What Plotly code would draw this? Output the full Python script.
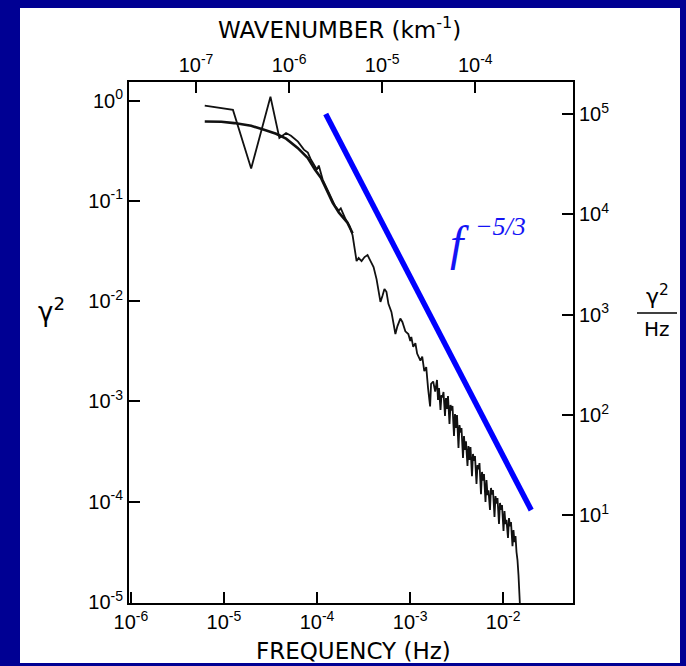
import plotly.graph_objects as go

# Measured spectrum: frequency (Hz) and gamma^2
freq_hz = [
    6.22e-6, 1.25e-5, 1.96e-5, 3.16e-5, 3.94e-5, 4.65e-5, 5.25e-5, 6.24e-5,
    7.23e-5, 7.97e-5, 8.59e-5, 9.95e-5, 1.045e-4, 1.15e-4, 1.34e-4, 1.55e-4,
    1.71e-4, 1.80e-4, 2.03e-4, 2.24e-4, 2.41e-4, 2.53e-4, 2.66e-4, 2.80e-4,
    3.01e-4, 3.24e-4, 3.49e-4, 3.76e-4, 4.05e-4, 4.36e-4, 4.57e-4, 4.80e-4,
    5.05e-4, 5.30e-4, 5.57e-4, 5.85e-4, 6.30e-4, 6.62e-4, 6.95e-4, 7.30e-4,
    7.85e-4, 8.26e-4, 8.89e-4, 9.57e-4, 1.005e-3, 1.03e-3, 1.08e-3, 1.14e-3,
    1.19e-3, 1.29e-3, 1.35e-3, 1.42e-3, 1.49e-3, 1.56e-3, 1.64e-3, 1.68e-3,
    1.77e-3, 1.86e-3,
    1.945e-3, 1.994e-3, 2.044e-3, 2.121e-3, 2.174e-3, 2.228e-3, 2.284e-3, 2.370e-3,
    2.429e-3, 2.490e-3, 2.553e-3, 2.649e-3, 2.716e-3, 2.783e-3, 2.853e-3, 2.961e-3,
    3.035e-3, 3.112e-3, 3.190e-3, 3.310e-3, 3.393e-3, 3.478e-3, 3.565e-3, 3.700e-3,
    3.792e-3, 3.886e-3, 3.984e-3, 4.134e-3, 4.237e-3, 4.345e-3, 4.453e-3, 4.621e-3,
    4.737e-3, 4.856e-3, 4.978e-3, 5.166e-3, 5.295e-3, 5.428e-3, 5.564e-3, 5.774e-3,
    5.920e-3, 6.067e-3, 6.220e-3, 6.455e-3, 6.616e-3, 6.783e-3, 6.952e-3, 7.214e-3,
    7.396e-3, 7.580e-3, 7.771e-3, 8.064e-3, 8.266e-3, 8.474e-3, 8.685e-3, 9.013e-3,
    9.241e-3, 9.471e-3, 9.707e-3, 1.008e-2, 1.033e-2, 1.058e-2, 1.085e-2, 1.126e-2,
    1.154e-2, 1.183e-2, 1.213e-2, 1.259e-2, 1.290e-2, 1.322e-2, 1.356e-2, 1.390e-2,
    1.424e-2, 1.460e-2, 1.489e-2, 1.515e-2,
]
power = [
    0.891, 0.807, 0.210, 1.09, 0.423, 0.474, 0.446, 0.389,
    0.324, 0.303, 0.258, 0.205, 0.225, 0.163, 0.121, 0.090,
    0.080, 0.084, 0.0655, 0.0557, 0.0454, 0.0345, 0.0251, 0.0269,
    0.0251, 0.0275, 0.0288, 0.0251, 0.0219, 0.0166, 0.0126, 0.00982,
    0.0113, 0.0132, 0.0124, 0.0094, 0.0078, 0.0059, 0.0047, 0.0056,
    0.0067, 0.0062, 0.0050, 0.0047, 0.0040, 0.0044, 0.0035, 0.0038,
    0.0030, 0.00255, 0.0028, 0.0020, 0.0022, 0.00135, 0.00089, 0.0015,
    0.00158, 0.00125,
    1.636e-3, 1.033e-3, 1.361e-3, 8.21e-4, 1.159e-3, 1.10e-3, 1.242e-3, 7.16e-4,
    1.082e-3, 8.40e-4, 1.132e-3, 5.95e-4, 9.21e-4, 8.10e-4, 9.00e-4, 4.52e-4,
    7.49e-4, 5.43e-4, 7.32e-4, 3.43e-4, 5.82e-4, 4.90e-4, 5.43e-4, 2.73e-4,
    4.52e-4, 3.28e-4, 4.00e-4, 2.27e-4, 3.59e-4, 2.61e-4, 3.51e-4, 1.80e-4,
    2.99e-4, 2.55e-4, 2.86e-4, 1.50e-4, 2.32e-4, 2.10e-4, 2.43e-4, 1.19e-4,
    1.98e-4, 1.62e-4, 1.89e-4, 9.94e-5, 1.646e-4, 1.167e-4, 1.30e-4, 8.27e-5,
    1.370e-4, 1.18e-4, 1.308e-4, 7.04e-5, 1.140e-4, 9.60e-5, 1.089e-4, 5.99e-5,
    9.71e-5, 8.30e-5, 9.28e-5, 5.10e-5, 8.08e-5, 5.99e-5, 6.60e-5, 4.35e-5,
    6.88e-5, 5.70e-5, 6.28e-5, 3.61e-5, 5.22e-5, 3.96e-5, 4.55e-5, 3.15e-5,
    2.62e-5, 1.86e-5, 1.32e-5, 9.12e-6,
]

# Smooth low-frequency curve
fit_freq_hz = [6.22e-6, 9.37e-6, 1.29e-5, 1.96e-5, 2.70e-5, 3.63e-5, 4.65e-5, 6.19e-5,
               7.93e-5, 9.48e-5, 1.10e-4, 1.27e-4, 1.47e-4, 1.72e-4, 2.12e-4, 2.41e-4]
fit_power = [0.618, 0.614, 0.596, 0.560, 0.511, 0.467, 0.417, 0.337,
             0.268, 0.205, 0.170, 0.130, 0.0959, 0.0762, 0.0607, 0.0475]

# Reference power-law line
slope_freq_hz = [1.24e-4, 2.0e-2]
slope_power = [0.733, 8.24e-5]

# Axis ticks
freq_ticks = [1e-6, 1e-5, 1e-4, 1e-3, 1e-2]
freq_ticktext = ["10<sup>-6</sup>", "10<sup>-5</sup>", "10<sup>-4</sup>", "10<sup>-3</sup>", "10<sup>-2</sup>"]
wn_ticks = [1e-7, 1e-6, 1e-5, 1e-4]
wn_ticktext = ["10<sup>-7</sup>", "10<sup>-6</sup>", "10<sup>-5</sup>", "10<sup>-4</sup>"]
gamma_ticks = [1e0, 1e-1, 1e-2, 1e-3, 1e-4, 1e-5]
gamma_ticktext = ["10<sup>0</sup>", "10<sup>-1</sup>", "10<sup>-2</sup>", "10<sup>-3</sup>", "10<sup>-4</sup>", "10<sup>-5</sup>"]
density_ticks = [1e1, 1e2, 1e3, 1e4, 1e5]
density_ticktext = ["10<sup>1</sup>", "10<sup>2</sup>", "10<sup>3</sup>", "10<sup>4</sup>", "10<sup>5</sup>"]

W, H = 686, 666
L, R, T, B = 129, 113, 82, 63
PW, PH = W - L - R, H - T - B


def px(xp):
    return (xp - L) / PW


def py(yp):
    return (H - B - yp) / PH


TICK_FONT = dict(family="Liberation Sans, Arial, sans-serif", size=20, color="black")
TITLE_FONT = dict(family="DejaVu Sans, sans-serif", size=23, color="black")
SERIF = "Liberation Serif, Times New Roman, serif"
LABEL_BLUE = "#1414F5"

fig = go.Figure()

fig.add_trace(go.Scatter(x=fit_freq_hz, y=fit_power, mode="lines",
                         line=dict(color="#111111", width=2.6), hoverinfo="skip"))
fig.add_trace(go.Scatter(x=freq_hz, y=power, mode="lines",
                         line=dict(color="#111111", width=1.8), hoverinfo="skip"))
fig.add_trace(go.Scatter(x=slope_freq_hz, y=slope_power, mode="lines",
                         line=dict(color="#0000FF", width=5.5), hoverinfo="skip"))
# registers the top/right axes
fig.add_trace(go.Scatter(x=[], y=[], xaxis="x2", yaxis="y2", hoverinfo="skip"))

axis_common = dict(
    type="log", showgrid=False, zeroline=False, showline=True,
    linecolor="black", linewidth=2, ticks="inside", ticklen=11,
    tickwidth=2, tickcolor="black", tickfont=TICK_FONT,
)

fig.update_layout(
    width=W, height=H,
    margin=dict(l=L, r=R, t=T, b=B),
    paper_bgcolor="#000093",
    plot_bgcolor="white",
    showlegend=False,
    xaxis=dict(range=[-6.02, -1.25], tickvals=freq_ticks, ticktext=freq_ticktext,
               **axis_common),
    yaxis=dict(range=[-5.01, 0.185], tickvals=gamma_ticks, ticktext=gamma_ticktext,
               **axis_common),
    xaxis2=dict(range=[-7.72, -2.95], tickvals=wn_ticks, ticktext=wn_ticktext,
                overlaying="x", side="top", anchor="y", **axis_common),
    yaxis2=dict(range=[0.125, 5.32], tickvals=density_ticks, ticktext=density_ticktext,
                overlaying="y", side="right", anchor="x", **axis_common),
    shapes=[
        # white panel
        dict(type="rect", xref="paper", yref="paper", layer="below",
             x0=px(20), x1=px(680), y0=py(663), y1=py(8),
             fillcolor="white", line=dict(width=0)),
        # fraction bar of the right-hand unit label
        dict(type="line", xref="paper", yref="paper",
             x0=px(637), x1=px(677), y0=py(313), y1=py(313),
             line=dict(color="black", width=1.5)),
    ],
    annotations=[
        dict(text="WAVENUMBER (km<sup>-1</sup>)", xref="paper", yref="paper",
             x=px(339), y=py(28), showarrow=False, font=TITLE_FONT,
             xanchor="center", yanchor="middle"),
        dict(text="FREQUENCY (Hz)", xref="paper", yref="paper",
             x=px(353), y=py(651), showarrow=False, font=TITLE_FONT,
             xanchor="center", yanchor="middle"),
        dict(text="γ<sup>2</sup>", xref="paper", yref="paper",
             x=px(51), y=py(310), showarrow=False, font=dict(TITLE_FONT, size=26),
             xanchor="center", yanchor="middle"),
        dict(text="γ<sup>2</sup>", xref="paper", yref="paper",
             x=px(657), y=py(311), showarrow=False, font=dict(TITLE_FONT, size=22),
             xanchor="center", yanchor="bottom"),
        dict(text="Hz", xref="paper", yref="paper",
             x=px(657), y=py(315), showarrow=False, font=dict(TITLE_FONT, size=20),
             xanchor="center", yanchor="top"),
        dict(text="<i>f</i>", xref="paper", yref="paper",
             x=px(459), y=py(243), showarrow=False,
             font=dict(family=SERIF, size=48, color=LABEL_BLUE),
             xanchor="center", yanchor="middle"),
        dict(text="<i>−5/3</i>", xref="paper", yref="paper",
             x=px(473), y=py(226), showarrow=False,
             font=dict(family=SERIF, size=26, color=LABEL_BLUE),
             xanchor="left", yanchor="middle"),
    ],
)

fig.write_html("out.html")
